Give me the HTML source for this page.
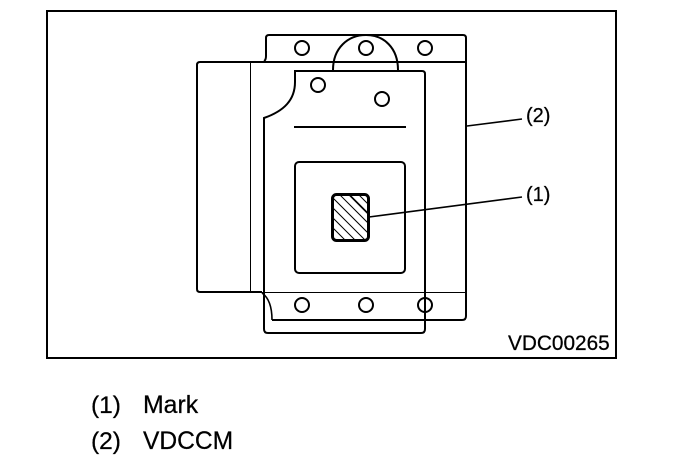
<!DOCTYPE html>
<html><head><meta charset="utf-8"><style>
html,body{margin:0;padding:0;background:#fff}
svg{display:block}
text{font-family:"Liberation Sans",sans-serif;fill:#000;stroke:#000;stroke-width:.25px}
</style></head><body>
<svg width="688" height="468" viewBox="0 0 688 468" xmlns="http://www.w3.org/2000/svg">
<defs><clipPath id="m"><rect x="333" y="195" width="35" height="45" rx="3"/></clipPath></defs>
<rect x="47" y="11" width="569" height="347" fill="none" stroke="#000" stroke-width="2"/>
<g fill="none" stroke="#000" stroke-width="2">
<path d="M264 61Q266 60 266 56V38Q266 35 269 35H463Q466 35 466 38V316Q466 320 462 320H272" />
<path d="M272 320Q272 300 262 293" stroke-width="1.6"/>
<path d="M264 62H200Q197 62 197 65V289Q197 292 200 292H262" stroke-width="2"/>
<path d="M264 62H466" stroke-width="2"/>
<path d="M262 292.500H466M250.500 62V292" stroke-width="1"/>
<path d="M333 70C333 48 348 35 366 35C384 35 398 48 398 70" />
<path d="M295 71H422Q425 71 425 74V329Q425 333 421 333H268Q264 333 264 329V118C284 111 295 100 295 82Z"/>
<path d="M294 127H406" />
<rect x="295" y="162" width="110" height="111" rx="4"/>
<circle cx="302" cy="48" r="7"/><circle cx="366" cy="48" r="7"/><circle cx="425" cy="48" r="7"/>
<circle cx="318" cy="85" r="7"/><circle cx="382" cy="99" r="7"/>
<circle cx="302" cy="305" r="7"/><circle cx="366" cy="305" r="7"/><circle cx="425" cy="305" r="7"/>
<path d="M369 217L522 197M467 126L522 119" stroke-width="1.6"/>
<g clip-path="url(#m)" stroke-width="1">
<path d="M333 188L383 238M333 198L383 248M333 208L373 248M333 218L363 248M333 228L353 248M342 188L382 228M352 188L382 218M333 178L383 228"/>
</g>
<rect x="332.500" y="194.500" width="36" height="46" rx="4" stroke-width="3"/>
</g>
<text x="526" y="122" font-size="20">(2)</text>
<text x="526" y="201" font-size="20">(1)</text>
<text x="508" y="350" font-size="20.800">VDC00265</text>
<text x="91" y="413" font-size="24.500">(1)</text>
<text x="143" y="413" font-size="24.800">Mark</text>
<text x="91" y="449" font-size="24.500">(2)</text>
<text x="143" y="449" font-size="24.600">VDCCM</text>
</svg>
</body></html>
